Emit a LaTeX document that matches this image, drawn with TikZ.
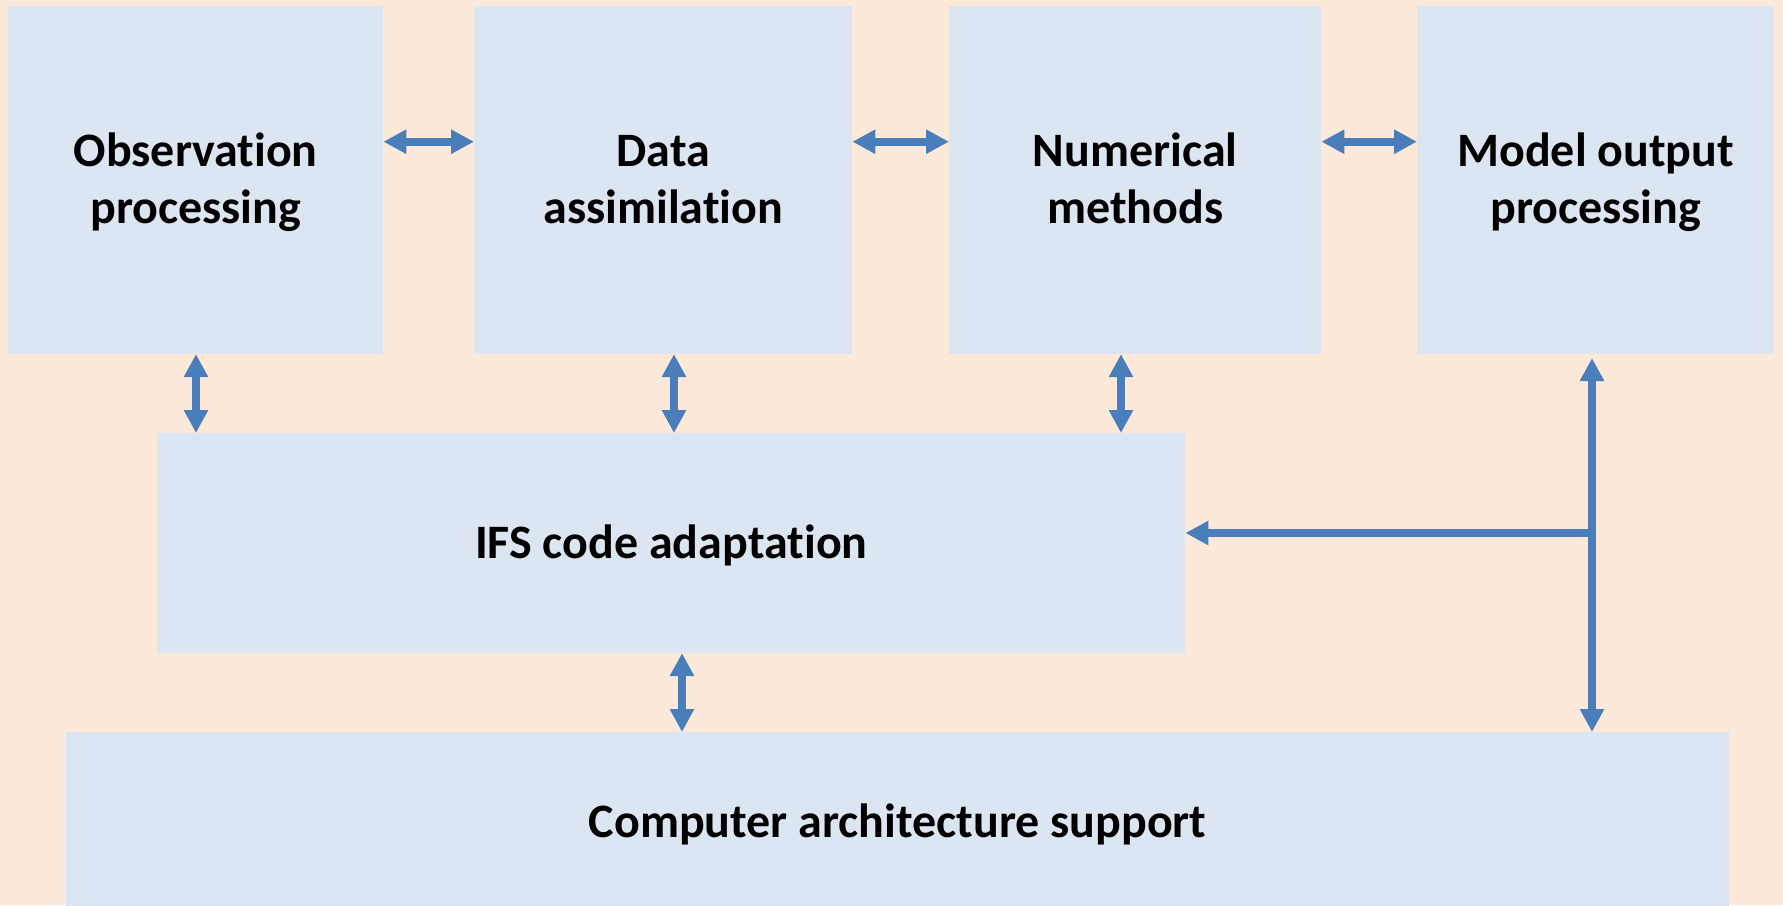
\documentclass[tikz,border=0pt]{standalone}
\usepackage{fontspec}
\setmainfont{Carlito}[Ligatures=CommonOff]
\usetikzlibrary{arrows.meta,calc}
\definecolor{bgpeach}{HTML}{FDE9D9}
\definecolor{boxblue}{HTML}{DCE6F2}
\definecolor{arrowblue}{HTML}{4A7EBB}
\newcommand{\boxtext}[1]{\begin{tabular}{@{}c@{}}#1\end{tabular}}
\tikzset{
  blockbox/.style={fill=boxblue, draw=none, inner sep=0pt, anchor=north west},
  blocktext/.style={inner sep=0pt, anchor=center, text=black,
    font=\bfseries\fontsize{48}{56.6}\selectfont},
  dbl/.style={draw=arrowblue, line width=8pt,
    {Triangle[width=23pt,length=23pt]}-{Triangle[width=23pt,length=23pt]}},
  sgl/.style={draw=arrowblue, line width=8pt, -{Triangle[width=23pt,length=23pt]}}
}
\begin{document}
\begin{tikzpicture}[x=1pt,y=-1pt]
\useasboundingbox (0,0) rectangle (1783,905);
\fill[bgpeach] (0,0) rectangle (1783,905);
% boxes
\node[blockbox, minimum width=375pt, minimum height=347.7pt] (obs) at (8,6) {};
\node[blockbox, minimum width=378pt, minimum height=347.7pt] (data) at (474,6) {};
\node[blockbox, minimum width=372pt, minimum height=347.7pt] (num) at (949,6) {};
\node[blockbox, minimum width=357pt, minimum height=347.7pt] (mod) at (1417,6) {};
\node[blockbox, minimum width=1028pt, minimum height=219.7pt] (ifs) at (157,433) {};
\node[blockbox, minimum width=1663pt, minimum height=180pt] (comp) at (66,732) {};
% texts
\node[blocktext] (obstext) at ($(obs.center)+(0,3.7)$) {\boxtext{Observation\\processing}};
\node[blocktext] (datatext) at ($(data.center)+(0,3.7)$) {\boxtext{Data\\assimilation}};
\node[blocktext] (numtext) at ($(num.center)+(0,3.7)$) {\boxtext{Numerical\\methods}};
\node[blocktext] (modtext) at ($(mod.center)+(0,3.7)$) {\boxtext{Model output\\processing}};
\node[blocktext] (ifstext) at ($(ifs.center)+(0,3.7)$) {\boxtext{IFS code adaptation}};
\node[blocktext] (comptext) at ($(comp.center)+(0,3.7)$) {\boxtext{Computer architecture support}};
% helper coordinates
\coordinate (ty) at (0,141.7);
\coordinate (xa) at (196,0);
\coordinate (xb) at (674,0);
\coordinate (xc) at (1121,0);
\coordinate (xd) at (682,0);
\coordinate (j) at (1592,533);
% top row arrows
\draw[dbl] (obs.east |- ty) -- (data.west |- ty);
\draw[dbl] (data.east |- ty) -- (num.west |- ty);
\draw[dbl] (num.east |- ty) -- (mod.west |- ty);
% vertical arrows to IFS
\draw[dbl] (xa |- obs.south) -- (xa |- ifs.north);
\draw[dbl] (xb |- data.south) -- (xb |- ifs.north);
\draw[dbl] (xc |- num.south) -- (xc |- ifs.north);
\draw[dbl] (xd |- ifs.south) -- (xd |- comp.north);
% model output to computer and IFS
\draw[dbl] ([yshift=-4pt]j |- mod.south) -- (j |- comp.north);
\draw[sgl] (j) -- (j -| ifs.east);
\end{tikzpicture}
\end{document}
